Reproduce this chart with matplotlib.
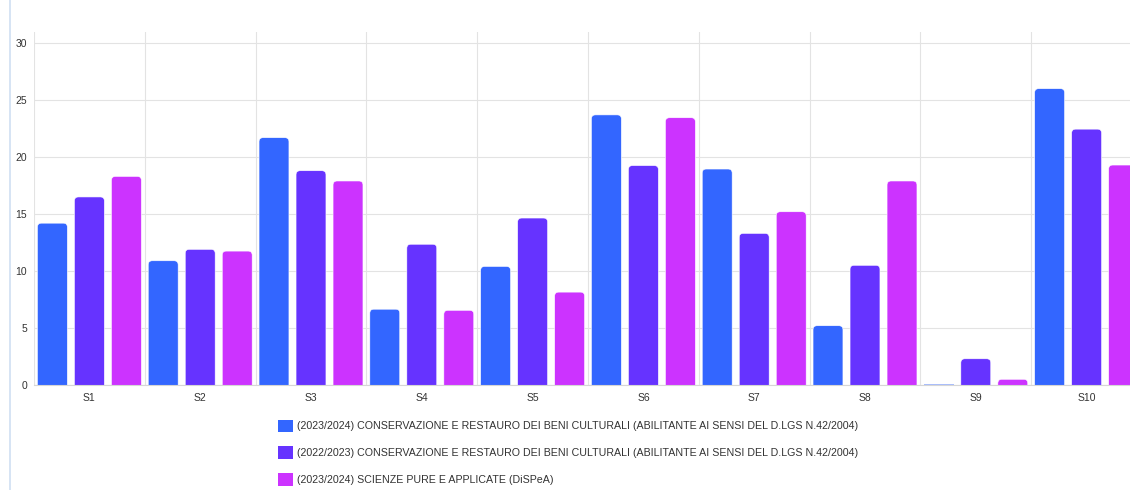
import numpy as np
import matplotlib
matplotlib.use("Agg")
import matplotlib.pyplot as plt
from matplotlib.patches import FancyBboxPatch, Patch
from matplotlib.lines import Line2D

plt.rcParams["font.family"] = ["Liberation Sans", "DejaVu Sans"]

# --- dati ---
categorie = ["S1", "S2", "S3", "S4", "S5", "S6", "S7", "S8", "S9", "S10"]
cr_2023 = [14.2, 10.9, 21.7, 6.65, 10.4, 23.7, 18.95, 5.2, 0.0, 26.0]
cr_2022 = [16.5, 11.9, 18.8, 12.35, 14.65, 19.25, 13.3, 10.5, 2.3, 22.45]
dispea_2023 = [18.3, 11.75, 17.9, 6.55, 8.15, 23.45, 15.2, 17.9, 0.5, 19.3]

serie_label = [
    "(2023/2024) CONSERVAZIONE E RESTAURO DEI BENI CULTURALI (ABILITANTE AI SENSI DEL D.LGS N.42/2004)",
    "(2022/2023) CONSERVAZIONE E RESTAURO DEI BENI CULTURALI (ABILITANTE AI SENSI DEL D.LGS N.42/2004)",
    "(2023/2024) SCIENZE PURE E APPLICATE (DiSPeA)",
]
colori = ["#3366ff", "#6633ff", "#cc33ff"]
y_ticks = [0, 5, 10, 15, 20, 25, 30]

fig = plt.figure(figsize=(11.3, 4.9), dpi=100)
ax = fig.add_axes([34 / 1130, 1 - 385 / 490, 1108 / 1130, (385 - 31.7) / 490])

x = np.arange(len(categorie))
w = 0.27
passo = 0.334
ymax = 31.0
# raggio degli angoli ~4 px
rx = 4 / 110.8
ry = 4 / (353.3 / ymax)

for i, (vals, col) in enumerate(zip([cr_2023, cr_2022, dispea_2023], colori)):
    bars = ax.bar(x + (i - 1) * passo, vals, width=w, color=col,
                  linewidth=0, zorder=2)
    for b, v in zip(bars, vals):
        if v <= 0:
            b.set_edgecolor(col)
            b.set_alpha(0.5)
            b.set_linewidth(1.2)
            continue
        b.set_visible(False)
        p = FancyBboxPatch((b.get_x(), -ry), b.get_width(), v + ry,
                           boxstyle=f"round,pad=0,rounding_size={rx}",
                           mutation_aspect=ry / rx, facecolor=col,
                           edgecolor="white", linewidth=0.4, zorder=2)
        ax.add_patch(p)

ax.set_xlim(-0.5, len(categorie) - 0.5)
ax.set_ylim(0, ymax)
ax.set_yticks(y_ticks)
ax.set_xticks(x)
ax.set_xticklabels(categorie)

# griglia: orizzontale sui tick, verticale ai bordi delle categorie
for t in y_ticks:
    ax.axhline(t, color="#e3e3e3", lw=0.8, zorder=0)
for b in np.arange(-0.5, len(categorie), 1.0):
    ax.axvline(b, color="#e3e3e3", lw=0.8, zorder=0)

for s in ["top", "right", "left"]:
    ax.spines[s].set_visible(False)
ax.spines["bottom"].set_color("#d6d6d6")
ax.spines["bottom"].set_linewidth(0.8)
ax.spines["bottom"].set_zorder(3)
ax.tick_params(axis="both", length=0, labelsize=7.5, colors="#333333")
ax.tick_params(axis="x", pad=6)
ax.tick_params(axis="y", pad=5)

# linea verticale azzurra a sinistra
fig.add_artist(Line2D([9.5 / 1130, 9.5 / 1130], [0, 1], color="#cfdff2", lw=1.2))

handles = [Patch(facecolor=c, edgecolor="none") for c in colori]
leg = fig.legend(handles, serie_label, loc="upper left",
                 bbox_to_anchor=(268 / 1130, 1 - 410 / 490),
                 frameon=False, fontsize=7.7, handlelength=1.4, handleheight=1.4,
                 handletextpad=0.4, labelspacing=1.35)
for t in leg.get_texts():
    t.set_color("#333333")

fig.savefig("out.png", dpi=100)
